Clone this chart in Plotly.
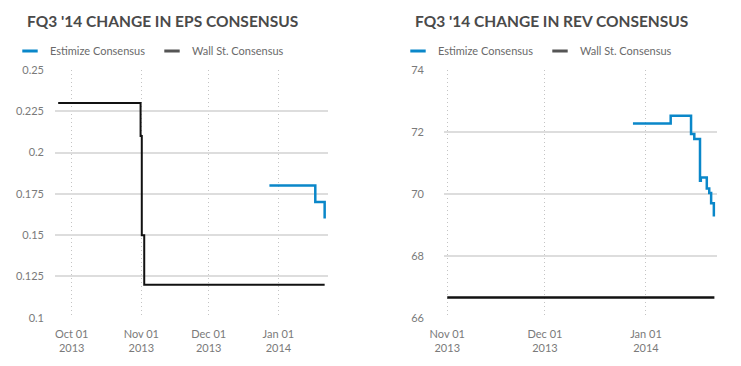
import plotly.graph_objects as go

# ---------------- data ----------------
eps_est_dates = ["2013-12-28 00:00", "2014-01-17 10:00", "2014-01-21 14:00"]
eps_est_values = [0.18, 0.17, 0.16]

eps_ws_dates = ["2013-09-25 00:00", "2013-10-31 16:00", "2013-11-01 05:00",
                "2013-11-02 07:00", "2014-01-21 14:00"]
eps_ws_values = [0.23, 0.21, 0.15, 0.12, 0.12]

rev_est_dates = ["2013-12-28 00:00", "2014-01-08 14:00", "2014-01-14 20:00",
                 "2014-01-15 20:00", "2014-01-17 14:00", "2014-01-17 20:00",
                 "2014-01-19 16:00", "2014-01-20 10:00", "2014-01-21 00:00",
                 "2014-01-21 20:00"]
rev_est_values = [72.27, 72.52, 71.93, 71.77, 70.42, 70.53, 70.17, 70.03, 69.7, 69.27]

rev_ws_dates = ["2013-11-01 00:00", "2014-01-22 00:00"]
rev_ws_values = [66.65, 66.65]

eps_ticks = [0.1, 0.125, 0.15, 0.175, 0.2, 0.225, 0.25]
eps_ticklabels = ["0.1", "0.125", "0.15", "0.175", "0.2", "0.225", "0.25"]
rev_ticks = [66, 68, 70, 72, 74]

eps_xticks = ["2013-10-01", "2013-11-01", "2013-12-01", "2014-01-01"]
eps_xlabels = ["Oct 01<br>2013", "Nov 01<br>2013", "Dec 01<br>2013", "Jan 01<br>2014"]
rev_xticks = ["2013-11-01", "2013-12-01", "2014-01-01"]
rev_xlabels = ["Nov 01<br>2013", "Dec 01<br>2013", "Jan 01<br>2014"]

titles = ["FQ3 '14 CHANGE IN EPS CONSENSUS", "FQ3 '14 CHANGE IN REV CONSENSUS"]
legend_names = ["Estimize Consensus", "Wall St. Consensus"]

BLUE = "#0a87c9"
BLACK = "#111111"
LEG_GRAY = "#555555"
FONT = "Lato, 'Open Sans', sans-serif"

# page body has an 8px margin; figure is sized/positioned to compensate
OFF = 8
W, H = 725, 350


def px(x):
    return (x - OFF) / W


def py(y):
    return (H - (y - OFF)) / H


fig = go.Figure()

# EPS chart
fig.add_trace(go.Scatter(x=eps_ws_dates, y=eps_ws_values, mode="lines", line_shape="hv",
                         line=dict(color=BLACK, width=2), showlegend=False,
                         xaxis="x", yaxis="y"))
fig.add_trace(go.Scatter(x=eps_est_dates, y=eps_est_values, mode="lines", line_shape="hv",
                         line=dict(color=BLUE, width=2.5), showlegend=False,
                         xaxis="x", yaxis="y"))
# REV chart
fig.add_trace(go.Scatter(x=rev_ws_dates, y=rev_ws_values, mode="lines", line_shape="hv",
                         line=dict(color=BLACK, width=2.5), showlegend=False,
                         xaxis="x2", yaxis="y2"))
fig.add_trace(go.Scatter(x=rev_est_dates, y=rev_est_values, mode="lines", line_shape="hv",
                         line=dict(color=BLUE, width=2.5), showlegend=False,
                         xaxis="x2", yaxis="y2"))

# legend entries
for lg, xa, ya in [("legend", "x", "y"), ("legend2", "x2", "y2")]:
    for name, col in zip(legend_names, [BLUE, LEG_GRAY]):
        fig.add_trace(go.Scatter(x=[None], y=[None], mode="markers", name=name,
                                 marker=dict(symbol="line-ew", size=11,
                                             line=dict(color=col, width=3)),
                                 legend=lg, xaxis=xa, yaxis=ya))

ydom = [py(317.7), py(70)]
x1dom = [px(55), px(328.3)]
x2dom = [px(444), px(716.7)]

tickfont = dict(family=FONT, size=11, color="#7a7a7a")

common_x = dict(showgrid=True, gridcolor="#c4c4c4", griddash="1px,3px", gridwidth=1,
                showline=False, zeroline=False, ticks="", tickfont=tickfont,
                tickmode="array", automargin=False, ticklabelstandoff=8)
common_y = dict(showgrid=True, gridcolor="#dddddd", gridwidth=1.5, showline=False,
                zeroline=False, ticks="", tickfont=tickfont, tickmode="array",
                automargin=False)

legend_common = dict(orientation="h", yanchor="middle", y=py(51),
                     xanchor="left", font=dict(family=FONT, size=11, color="#6a6a6a"),
                     bgcolor="rgba(0,0,0,0)", itemwidth=30, traceorder="normal",
                     entrywidth=97)

fig.update_layout(
    width=W, height=H,
    margin=dict(l=0, r=0, t=0, b=0, autoexpand=False),
    paper_bgcolor="white", plot_bgcolor="white",
    font=dict(family=FONT),
    xaxis=dict(domain=x1dom, type="date", range=["2013-09-23 14:00", "2014-01-23 05:00"],
               tickvals=eps_xticks, ticktext=eps_xlabels, anchor="y", **common_x),
    yaxis=dict(domain=ydom, range=[0.1, 0.25], tickvals=eps_ticks, ticktext=eps_ticklabels,
               anchor="x", ticklabelstandoff=10, **common_y),
    xaxis2=dict(domain=x2dom, type="date", range=["2013-10-31 00:00", "2014-01-22 17:00"],
                tickvals=rev_xticks, ticktext=rev_xlabels, anchor="y2", **common_x),
    yaxis2=dict(domain=ydom, range=[66, 74], tickvals=rev_ticks, anchor="x2",
                ticklabelstandoff=19, **common_y),
    legend=dict(x=px(10), **legend_common),
    legend2=dict(x=px(398), **legend_common),
    annotations=[
        dict(text="<b>%s</b>" % titles[0], x=px(25), y=py(21), xref="paper",
             yref="paper", xanchor="left", yanchor="middle", showarrow=False,
             font=dict(family=FONT, size=15.5, color="#4a4a4a")),
        dict(text="<b>%s</b>" % titles[1], x=px(413), y=py(21), xref="paper",
             yref="paper", xanchor="left", yanchor="middle", showarrow=False,
             font=dict(family=FONT, size=15.5, color="#4a4a4a")),
    ],
)

fig.write_html("out.html")
